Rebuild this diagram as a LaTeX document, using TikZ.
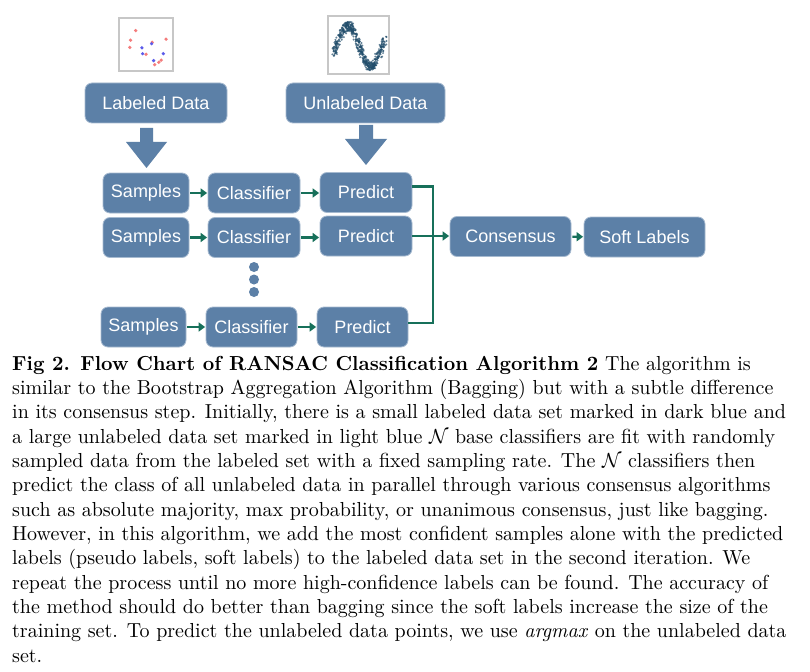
\documentclass[tikz,border=0pt]{standalone}
\usepackage{fontspec}
\usepackage{graphicx}
\newfontfamily\boxfont{Liberation Sans}
\usetikzlibrary{arrows.meta}
\definecolor{boxblue}{HTML}{5C80A7}
\definecolor{boxedge}{HTML}{A6BAD0}
\definecolor{arrgreen}{HTML}{17705A}
\definecolor{wavecol}{HTML}{224E6C}
\definecolor{dotred}{HTML}{F47C7C}
\definecolor{dotblue}{HTML}{5B5BEA}
\begin{document}
\begin{tikzpicture}[x=1pt,y=-1pt,
  box/.style={rounded corners=7pt, fill=boxblue, draw=boxedge, line width=0.8pt,
    text=white, font=\boxfont\fontsize{18}{20}\selectfont, inner sep=0pt,
    minimum height=40pt},
  garrow/.style={draw=arrgreen, line width=2.2pt, -{Triangle[length=6.5pt,width=9pt]}, shorten <=1pt, shorten >=0.5pt},
  gline/.style={draw=arrgreen, line width=2.2pt},
  icon/.style={draw=black!22, fill=white, line width=1.2pt},
  vdot/.style={fill=boxblue, draw=none}
]
\useasboundingbox (0,0) rectangle (810,671);
\fill[white] (0,0) rectangle (810,671);

% icons
\draw[icon] (119,18) rectangle (173,71);
\foreach \p in {(135.7,30.6),(130.5,40.2),(129.8,47.4),(152.2,42.3),(166,39.2),(146,54.3),(154.7,64.7),(158.8,62.3),(161.2,60.2)}
  \fill[dotred] \p circle[radius=1.8pt];
\foreach \p in {(141.9,47.8),(151.6,43.7),(142.6,53.7),(163.3,53.7),(153.6,60.6)}
  \fill[dotblue] \p circle[radius=1.8pt];

\draw[icon] (328,16) rectangle (389,74);
\pgfmathsetseed{11}
\foreach \i in {1,...,520}{
  \pgfmathsetmacro{\th}{-20+400*rnd}
  \pgfmathsetmacro{\px}{334+(\th+20)*0.127+2.4*rand}
  \pgfmathsetmacro{\py}{46-20*sin(\th)+4.5*rand}
  \fill[wavecol, opacity=0.7] (\px,\py) circle[radius=1.1pt];
}

% top boxes
\node[box, minimum width=142pt] (LD) at (156,103) {Labeled Data};
\node[box, minimum width=159pt] (UD) at (365.5,103) {Unlabeled Data};

% block arrows
\fill[boxblue] (140,128) -- (153,128) -- (153,142) -- (167,142) -- (146.5,168) -- (126,142) -- (140,142) -- cycle;
\fill[boxblue] (359,125) -- (373,125) -- (373,139) -- (387,139) -- (366,165) -- (345,139) -- (359,139) -- cycle;

% rows
\node[box, minimum width=86pt] (S1) at (146,193) {Samples};
\node[box, minimum width=92pt] (C1) at (254,193) {Classifier};
\node[box, minimum width=92pt] (P1) at (366,192.5) {Predict};
\node[box, minimum width=86pt] (S2) at (146,237.5) {Samples};
\node[box, minimum width=92pt] (C2) at (254,237.5) {Classifier};
\node[box, minimum width=92pt] (P2) at (366,236) {Predict};
\node[box, minimum width=85pt] (S3) at (143.5,327) {Samples};
\node[box, minimum width=91pt] (C3) at (251.5,327) {Classifier};
\node[box, minimum width=91pt] (P3) at (362.5,327) {Predict};
\node[box, minimum width=121pt] (CO) at (510.5,236.5) {Consensus};
\node[box, minimum width=121pt] (SL) at (644.5,237) {Soft Labels};

% vertical dots
\node[vdot, circle, minimum size=10pt, inner sep=0] (d1) at (254,267) {};
\node[vdot, circle, minimum size=10pt, inner sep=0] (d2) at (254,279.5) {};
\node[vdot, circle, minimum size=10pt, inner sep=0] (d3) at (254,292) {};

% green arrows
\draw[garrow] (S1) -- (C1);
\draw[garrow] (C1) -- (P1.west |- C1);
\draw[garrow] (S2) -- (C2);
\draw[garrow] (C2) -- (P2.west |- C2);
\draw[garrow] (S3) -- (C3);
\draw[garrow] (C3) -- (P3);
\coordinate (V) at (433,250);
\draw[gline] ([yshift=6pt]P1.east) -| (V) |- ([yshift=4pt]P3.east);
\draw[garrow, shorten <=0pt] (P2.east) -- (CO.west |- P2.east);
\draw[garrow] (CO) -- (SL);

% caption
\node[anchor=base west, inner sep=0pt] (cap) at (12,370) {\scalebox{2.0}[2.03]{\parbox[t]{420pt}{\fontsize{10}{12}\selectfont\raggedright
\textbf{Fig 2. Flow Chart of RANSAC Classification Algorithm 2} The algorithm is\\
similar to the Bootstrap Aggregation Algorithm (Bagging) but with a subtle difference\\
in its consensus step. Initially, there is a small labeled data set marked in dark blue and\\
a large unlabeled data set marked in light blue $\mathcal{N}$ base classifiers are fit with randomly\\
sampled data from the labeled set with a fixed sampling rate. The $\mathcal{N}$ classifiers then\\
predict the class of all unlabeled data in parallel through various consensus algorithms\\
such as absolute majority, max probability, or unanimous consensus, just like bagging.\\
However, in this algorithm, we add the most confident samples alone with the predicted\\
labels (pseudo labels, soft labels) to the labeled data set in the second iteration. We\\
repeat the process until no more high-confidence labels can be found. The accuracy of\\
the method should do better than bagging since the soft labels increase the size of the\\
training set. To predict the unlabeled data points, we use \emph{argmax} on the unlabeled data\\
set.}}};
\end{tikzpicture}
\end{document}
